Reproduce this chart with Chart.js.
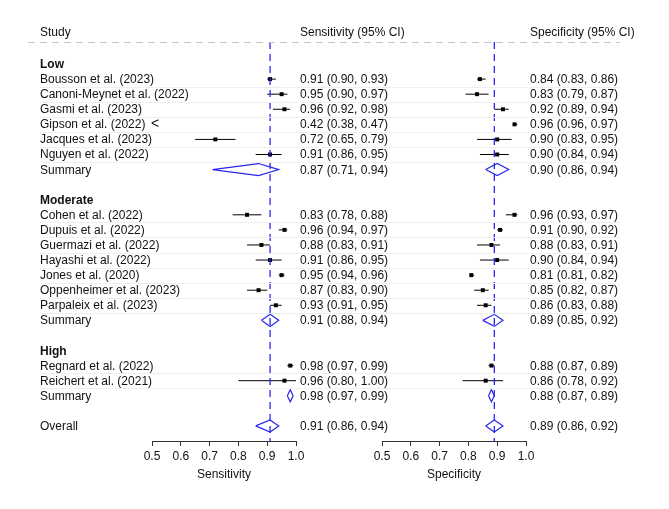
<!DOCTYPE html>
<html>
<head>
<meta charset="utf-8">
<script src="https://cdn.jsdelivr.net/npm/chart.js@4.4.1/dist/chart.umd.min.js"></script>
<style>
  html, body { margin: 0; padding: 0; background: #fff; }
  #wrap { position: relative; width: 669px; height: 509px; overflow: hidden;
          font-family: "Liberation Sans", Arial, Helvetica, sans-serif; font-size: 12px; color: #111; }
  #wrap canvas { position: absolute; left: 0; top: 0; }
  .txt { position: absolute; white-space: nowrap; line-height: 14px; transform: translateY(-50%); }
  .bold { font-weight: bold; }
  .sep { position: absolute; height: 1px; background: #efefef; }
  .hdr { position: absolute; height: 1px;
         background: repeating-linear-gradient(to right, #c8c8c8 0 7px, transparent 7px 12px); }
</style>
</head>
<body>
<div id="wrap">
  <canvas id="sensChart" width="669" height="509"></canvas>
  <canvas id="specChart" width="669" height="509"></canvas>
</div>
<script>
const groupNames = ["Low", "Moderate", "High"];
const studies = [
  "Bousson et al. (2023)", "Canoni-Meynet et al. (2022)", "Gasmi et al. (2023)",
  "Gipson et al. (2022)", "Jacques et al. (2023)", "Nguyen et al. (2022)",
  "Cohen et al. (2022)", "Dupuis et al. (2022)", "Guermazi et al. (2022)",
  "Hayashi et al. (2022)", "Jones et al. (2020)", "Oppenheimer et al. (2023)",
  "Parpaleix et al. (2023)",
  "Regnard et al. (2022)", "Reichert et al. (2021)"
];
const studyGroup = [0, 0, 0, 0, 0, 0, 1, 1, 1, 1, 1, 1, 1, 2, 2];

const sensPoint = [0.91, 0.95, 0.96, 0.42, 0.72, 0.91, 0.83, 0.96, 0.88, 0.91, 0.95, 0.87, 0.93, 0.98, 0.96];
const sensLower = [0.90, 0.90, 0.92, 0.38, 0.65, 0.86, 0.78, 0.94, 0.83, 0.86, 0.94, 0.83, 0.91, 0.97, 0.80];
const sensUpper = [0.93, 0.97, 0.98, 0.47, 0.79, 0.95, 0.88, 0.97, 0.91, 0.95, 0.96, 0.90, 0.95, 0.99, 1.00];

const specPoint = [0.84, 0.83, 0.92, 0.96, 0.90, 0.90, 0.96, 0.91, 0.88, 0.90, 0.81, 0.85, 0.86, 0.88, 0.86];
const specLower = [0.83, 0.79, 0.89, 0.96, 0.83, 0.84, 0.93, 0.90, 0.83, 0.84, 0.81, 0.82, 0.83, 0.87, 0.78];
const specUpper = [0.86, 0.87, 0.94, 0.97, 0.95, 0.94, 0.97, 0.92, 0.91, 0.94, 0.82, 0.87, 0.88, 0.89, 0.92];

// summaries per group, then overall
const sensSumPoint = [0.87, 0.91, 0.98];
const sensSumLower = [0.71, 0.88, 0.97];
const sensSumUpper = [0.94, 0.94, 0.99];
const specSumPoint = [0.90, 0.89, 0.88];
const specSumLower = [0.86, 0.85, 0.87];
const specSumUpper = [0.94, 0.92, 0.89];
const sensOverall = [0.91, 0.86, 0.94];
const specOverall = [0.89, 0.86, 0.92];

const axisTicks = [0.5, 0.6, 0.7, 0.8, 0.9, 1.0];
const BLUE = "rgb(40, 40, 235)";

// build row layout: heading, studies, summary, blank ... overall
const rows = [];
let r = 0;
groupNames.forEach((g, gi) => {
  rows.push({ kind: "group", label: g, y: r++ });
  studies.forEach((s, i) => {
    if (studyGroup[i] === gi) rows.push({ kind: "study", label: s, idx: i, y: r++ });
  });
  rows.push({ kind: "summary", label: "Summary", idx: gi, y: r++ });
  r++;
});
rows.push({ kind: "overall", label: "Overall", y: r });

const fmt = (p, lo, hi) => `${p.toFixed(2)} (${lo.toFixed(2)}, ${hi.toFixed(2)})`;
const clip = (v) => Math.min(1, Math.max(0.5, v));

function makeDatasets(pt, lo, hi, sp, slo, shi, ov) {
  const ds = [];
  ds.push({
    data: [{ x: ov[0], y: -1.46 }, { x: ov[0], y: 25 }],
    showLine: true, borderColor: BLUE, borderWidth: 1.3, borderDash: [7, 5], pointRadius: 0
  });
  const pts = [];
  rows.forEach((row) => {
    if (row.kind === "study") {
      const i = row.idx;
      if (hi[i] >= 0.5) {
        ds.push({
          data: [{ x: clip(lo[i]), y: row.y }, { x: clip(hi[i]), y: row.y }],
          showLine: true, borderColor: "#000", borderWidth: 1, pointRadius: 0
        });
      }
      if (pt[i] >= 0.5) pts.push({ x: pt[i], y: row.y });
    } else if (row.kind === "summary" || row.kind === "overall") {
      const v = row.kind === "summary" ? [sp[row.idx], slo[row.idx], shi[row.idx]] : ov;
      ds.push({
        data: [
          { x: v[1], y: row.y }, { x: v[0], y: row.y - 0.4 },
          { x: v[2], y: row.y }, { x: v[0], y: row.y + 0.4 }, { x: v[1], y: row.y }
        ],
        showLine: true, borderColor: BLUE, borderWidth: 1.2, pointRadius: 0, fill: false
      });
    }
  });
  ds.push({
    data: pts, pointStyle: "rect", pointRadius: 2.8,
    backgroundColor: "#000", borderColor: "#000", borderWidth: 0
  });
  return ds;
}

function makeConfig(datasets, title, padLeft, padRight) {
  return {
    type: "scatter",
    data: { datasets },
    options: {
      responsive: false,
      animation: false,
      events: [],
      layout: { padding: { left: padLeft, right: padRight, top: 42, bottom: 23 } },
      plugins: { legend: { display: false }, tooltip: { enabled: false } },
      scales: {
        x: {
          type: "linear", min: 0.5, max: 1.0,
          afterFit: (scale) => { scale.height = 45; },
          afterBuildTicks: (scale) => { scale.ticks = axisTicks.map((v) => ({ value: v })); },
          border: { display: true, color: "#333", width: 1 },
          grid: { display: true, drawOnChartArea: false, drawTicks: true, tickLength: 5, color: "#333" },
          ticks: {
            color: "#111", padding: 3,
            font: { family: "'Liberation Sans', Arial, sans-serif", size: 12 },
            callback: (v) => Number(v).toFixed(1)
          },
          title: {
            display: true, text: title, color: "#111", padding: { top: 4, bottom: 4 },
            font: { family: "'Liberation Sans', Arial, sans-serif", size: 12 }
          }
        },
        y: { type: "linear", reverse: true, min: -1.46, max: 25, display: false }
      }
    }
  };
}

const sensChart = new Chart(document.getElementById("sensChart"),
  makeConfig(makeDatasets(sensPoint, sensLower, sensUpper, sensSumPoint, sensSumLower, sensSumUpper, sensOverall),
    "Sensitivity", 152, 373));
const specChart = new Chart(document.getElementById("specChart"),
  makeConfig(makeDatasets(specPoint, specLower, specUpper, specSumPoint, specSumLower, specSumUpper, specOverall),
    "Specificity", 382, 143));

// text columns positioned from the chart scales
const wrap = document.getElementById("wrap");
const yS = sensChart.scales.y;
const xS = sensChart.scales.x;
const xP = specChart.scales.x;
const labelX = 40;
const sensTextX = xS.getPixelForValue(1.0) + 4;
const specTextX = xP.getPixelForValue(1.0) + 4;

function addText(text, x, y, cls) {
  const d = document.createElement("div");
  d.className = "txt" + (cls ? " " + cls : "");
  d.textContent = text;
  d.style.left = x + "px";
  d.style.top = y + "px";
  wrap.appendChild(d);
  return d;
}

const headY = yS.getPixelForValue(-2.1);
addText("Study", labelX, headY);
addText("Sensitivity (95% CI)", sensTextX, headY);
addText("Specificity (95% CI)", specTextX, headY);
const hdr = document.createElement("div");
hdr.className = "hdr";
hdr.style.left = "28px";
hdr.style.width = "592px";
hdr.style.top = Math.round(yS.getPixelForValue(-1.46)) + "px";
wrap.appendChild(hdr);

rows.forEach((row) => {
  const py = yS.getPixelForValue(row.y);
  if (row.kind === "group") {
    addText(row.label, labelX, py, "bold");
    return;
  }
  addText(row.label, labelX, py);
  let sv, pv;
  if (row.kind === "study") {
    const i = row.idx;
    sv = [sensPoint[i], sensLower[i], sensUpper[i]];
    pv = [specPoint[i], specLower[i], specUpper[i]];
    const sep = document.createElement("div");
    sep.className = "sep";
    sep.style.left = labelX + "px";
    sep.style.width = "580px";
    sep.style.top = Math.round(yS.getPixelForValue(row.y + 0.5)) + "px";
    wrap.appendChild(sep);
    if (sensPoint[i] < 0.5) {
      addText("<", xS.getPixelForValue(0.5) - 1, py - 1).style.fontSize = "14px";
    }
  } else if (row.kind === "summary") {
    sv = [sensSumPoint[row.idx], sensSumLower[row.idx], sensSumUpper[row.idx]];
    pv = [specSumPoint[row.idx], specSumLower[row.idx], specSumUpper[row.idx]];
  } else {
    sv = sensOverall;
    pv = specOverall;
  }
  addText(fmt(sv[0], sv[1], sv[2]), sensTextX, py);
  addText(fmt(pv[0], pv[1], pv[2]), specTextX, py);
});
</script>
</body>
</html>
